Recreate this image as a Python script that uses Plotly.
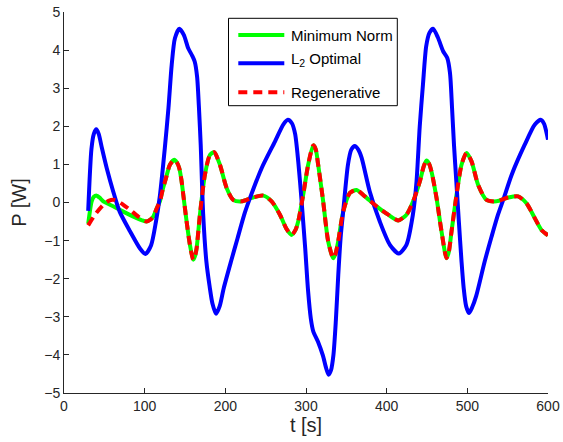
import plotly.graph_objects as go

# ---- data ----
t_l2 = [30, 34, 37, 40, 43, 47, 53, 61, 69, 82, 94, 101, 108, 114, 119, 125, 129.5, 133.5,
        137.5, 143, 148.5, 154, 159, 162, 165, 167.5, 169.5, 172.5, 176.5, 180.5, 184, 188.5,
        193, 198, 207, 215, 224, 232, 245, 261.5, 272, 277.5, 282.5, 286.5, 290.5, 294.5,
        299, 302.5, 306, 309, 315, 321, 325, 328, 331, 334, 337, 340, 343, 346.5, 352, 356,
        360.5, 365, 369, 379, 391.5, 404, 415, 424.5, 432.5, 437, 441, 445, 449, 453, 457.5,
        463.5, 470, 475, 478.5, 481, 483.5, 486.5, 489.5, 492.8, 495.5, 498.5, 502, 506, 511,
        521.5, 530, 538, 545, 555, 571, 583.5, 591, 595, 598, 600]
p_l2 = [-0.22, 1.40, 1.80, 1.92, 1.80, 1.43, 0.90, 0.29, -0.24, -0.76, -1.20, -1.35, -1.12,
        -0.50, 0.20, 1.43, 2.48, 3.61, 4.31, 4.56, 4.40, 4.05, 3.85, 3.70, 3.30, 2.40, 1.50,
        -0.30, -1.55, -2.20, -2.65, -2.92, -2.72, -2.25, -1.55, -0.95, -0.28, 0.20, 0.90,
        1.60, 2.05, 2.17, 2.08, 1.80, 1.05, 0.05, -1.20, -2.30, -3.05, -3.38, -3.66, -4.02,
        -4.35, -4.52, -4.40, -4.00, -3.10, -1.90, -0.90, -0.15, 0.99, 1.38, 1.48, 1.38, 1.17,
        0.29, -0.50, -1.11, -1.34, -1.11, -0.32, 0.55, 2.00, 3.10, 4.10, 4.45, 4.56, 4.33,
        3.97, 3.80, 3.40, 2.50, 1.50, 0.50, -0.50, -1.55, -2.25, -2.72, -2.90, -2.75, -2.45,
        -1.55, -0.90, -0.32, 0.10, 0.73, 1.51, 2.04, 2.17, 2.07, 1.85, 1.65]

t_min_norm = [30, 34.3, 37, 40.5, 44, 48.7, 61, 73.5, 86, 96, 102.4, 107, 110.7, 115, 118.9,
              122.5, 126.4, 131.3, 136.7, 140, 142.9, 145.5, 147.9, 152, 156.1, 160.2, 162.5,
              164.4, 168.5, 174.7, 180.9, 186.2, 193.3, 201.6, 209.8, 220.2, 232.6, 247,
              257.4, 267.7, 276, 282.2, 287, 290.3, 296.5, 302.7, 309, 312, 315.1, 321.3,
              327.5, 333.7, 336.5, 339.9, 346.1, 354.4, 362.7, 373, 387.5, 401.9, 414.3,
              424.6, 432.8, 441.1, 446, 449.4, 452.5, 455.6, 461.8, 468, 474.2, 477, 480.4,
              486.6, 492.8, 499, 505.2, 513.4, 523.8, 536.2, 550.6, 562.9, 573.3, 583.6,
              591.9, 600]
p_min_norm = [-0.56, 0.03, 0.15, 0.18, 0.13, 0.03, -0.10, -0.24, -0.37, -0.46, -0.50, -0.45,
              -0.37, -0.15, 0.03, 0.35, 0.64, 0.99, 1.12, 1.05, 0.90, 0.60, 0.20, -0.50, -1.11,
              -1.50, -1.40, -1.20, -0.32, 0.73, 1.25, 1.32, 0.99, 0.38, 0.07, 0.03, 0.12, 0.18,
              0.03, -0.32, -0.70, -0.85, -0.72, -0.50, 0.20, 0.99, 1.50, 1.40, 0.99, 0.03,
              -1.02, -1.46, -1.35, -1.02, -0.24, 0.25, 0.33, 0.16, -0.10, -0.32, -0.47, -0.32,
              0.03, 0.55, 0.95, 1.10, 1.02, 0.81, 0.12, -0.76, -1.46, -1.30, -0.76, 0.20, 0.99,
              1.30, 1.08, 0.46, 0.07, 0.03, 0.13, 0.16, -0.02, -0.41, -0.72, -0.86]

t_regen = [30, 38.4, 48.7, 56, 61.1, 67, 73.5, 81.8, 92.1, 102.4, 107, 110.7, 115, 118.9,
           122.5, 126.4, 131.3, 136.7, 140, 142.9, 145.5, 147.9, 152, 156.1, 160.2, 162.5,
           164.4, 168.5, 174.7, 180.9, 186.2, 193.3, 201.6, 209.8, 220.2, 232.6, 247,
           257.4, 267.7, 276, 282.2, 287, 290.3, 296.5, 302.7, 309, 312, 315.1, 321.3,
           327.5, 333.7, 336.5, 339.9, 346.1, 354.4, 362.7, 373, 387.5, 401.9, 414.3,
           424.6, 432.8, 441.1, 446, 449.4, 452.5, 455.6, 461.8, 468, 474.2, 477, 480.4,
           486.6, 492.8, 499, 505.2, 513.4, 523.8, 536.2, 550.6, 562.9, 573.3, 583.6,
           591.9, 600]
p_regen = [-0.60, -0.32, -0.06, 0.05, 0.07, 0.03, -0.06, -0.19, -0.37, -0.50, -0.45,
           -0.37, -0.15, 0.03, 0.35, 0.64, 0.99, 1.12, 1.05, 0.90, 0.60, 0.20, -0.50, -1.11,
           -1.50, -1.40, -1.20, -0.32, 0.73, 1.25, 1.32, 0.99, 0.38, 0.07, 0.03, 0.12, 0.18,
           0.03, -0.32, -0.70, -0.85, -0.72, -0.50, 0.20, 0.99, 1.50, 1.40, 0.99, 0.03,
           -1.02, -1.46, -1.35, -1.02, -0.24, 0.25, 0.33, 0.16, -0.10, -0.32, -0.47, -0.32,
           0.03, 0.55, 0.95, 1.10, 1.02, 0.81, 0.12, -0.76, -1.46, -1.30, -0.76, 0.20, 0.99,
           1.30, 1.08, 0.46, 0.07, 0.03, 0.13, 0.16, -0.02, -0.41, -0.72, -0.86]

series_names = ["Minimum Norm", "L<sub>2</sub> Optimal", "Regenerative"]
x_ticks = [0, 100, 200, 300, 400, 500, 600]
y_ticks = [-5, -4, -3, -2, -1, 0, 1, 2, 3, 4, 5]

GREEN, BLUE, RED = "#00FF00", "#0000FF", "#FF0000"
FONT = "Liberation Sans, Arial, Helvetica, sans-serif"
AX = "#262626"
DASH = "9px,6px"

fig = go.Figure()
fig.add_trace(go.Scatter(x=t_min_norm, y=p_min_norm, mode="lines", name=series_names[0],
                         line=dict(color=GREEN, width=4, shape="spline", smoothing=0.7)))
fig.add_trace(go.Scatter(x=t_l2, y=p_l2, mode="lines", name=series_names[1],
                         line=dict(color=BLUE, width=4, shape="spline", smoothing=0.7)))
fig.add_trace(go.Scatter(x=t_regen, y=p_regen, mode="lines", name=series_names[2],
                         line=dict(color=RED, width=4, dash=DASH, shape="spline",
                                   smoothing=0.7)))

axis_common = dict(showline=True, linecolor=AX, linewidth=1, ticks="inside", ticklen=5,
                   tickcolor=AX, tickwidth=1, showgrid=False, zeroline=False, mirror=False,
                   automargin=False, tickfont=dict(family=FONT, size=14, color=AX))
fig.update_xaxes(range=[0, 600], tickvals=x_ticks, **axis_common,
                 title=dict(text="t [s]", font=dict(family=FONT, size=20, color=AX), standoff=4))
fig.update_yaxes(range=[-5, 5], tickvals=y_ticks, **axis_common,
                 title=dict(text="P [W]", font=dict(family=FONT, size=20, color=AX), standoff=12))

# ---- legend box (MATLAB style), positioned in paper fractions of the plot area ----
L, B, W, H = 64, 393, 484, 381
px = lambda v: (v - L) / W
py = lambda v: (B - v) / H
shapes = [dict(type="rect", xref="paper", yref="paper", x0=px(228.5), x1=px(397.3),
               y0=py(105.7), y1=py(18.3), line=dict(color="#000000", width=1),
               fillcolor="white", layer="above")]
rows = [(35, 35.8, GREEN, None), (63.3, 59.5, BLUE, None), (92.3, 92.5, RED, DASH)]
annotations = []
for (ly, ty, col, dash), name in zip(rows, series_names):
    ln = dict(color=col, width=4)
    if dash:
        ln["dash"] = dash
    shapes.append(dict(type="line", xref="paper", yref="paper", x0=px(238.3), x1=px(284.3),
                       y0=py(ly), y1=py(ly), line=ln, layer="above"))
    annotations.append(dict(text=name, xref="paper", yref="paper", x=px(289), y=py(ty),
                            xanchor="left", yanchor="middle", showarrow=False,
                            font=dict(family=FONT, size=15, color="#000000")))

fig.update_layout(width=563, height=442,
                  margin=dict(l=64, r=15, t=12, b=49, autoexpand=False),
                  plot_bgcolor="white", paper_bgcolor="white", showlegend=False,
                  shapes=shapes, annotations=annotations, font=dict(family=FONT))
fig.write_html("out.html", config={"displayModeBar": False},
               post_script="document.body.style.margin='0';document.body.style.overflow='hidden';")
